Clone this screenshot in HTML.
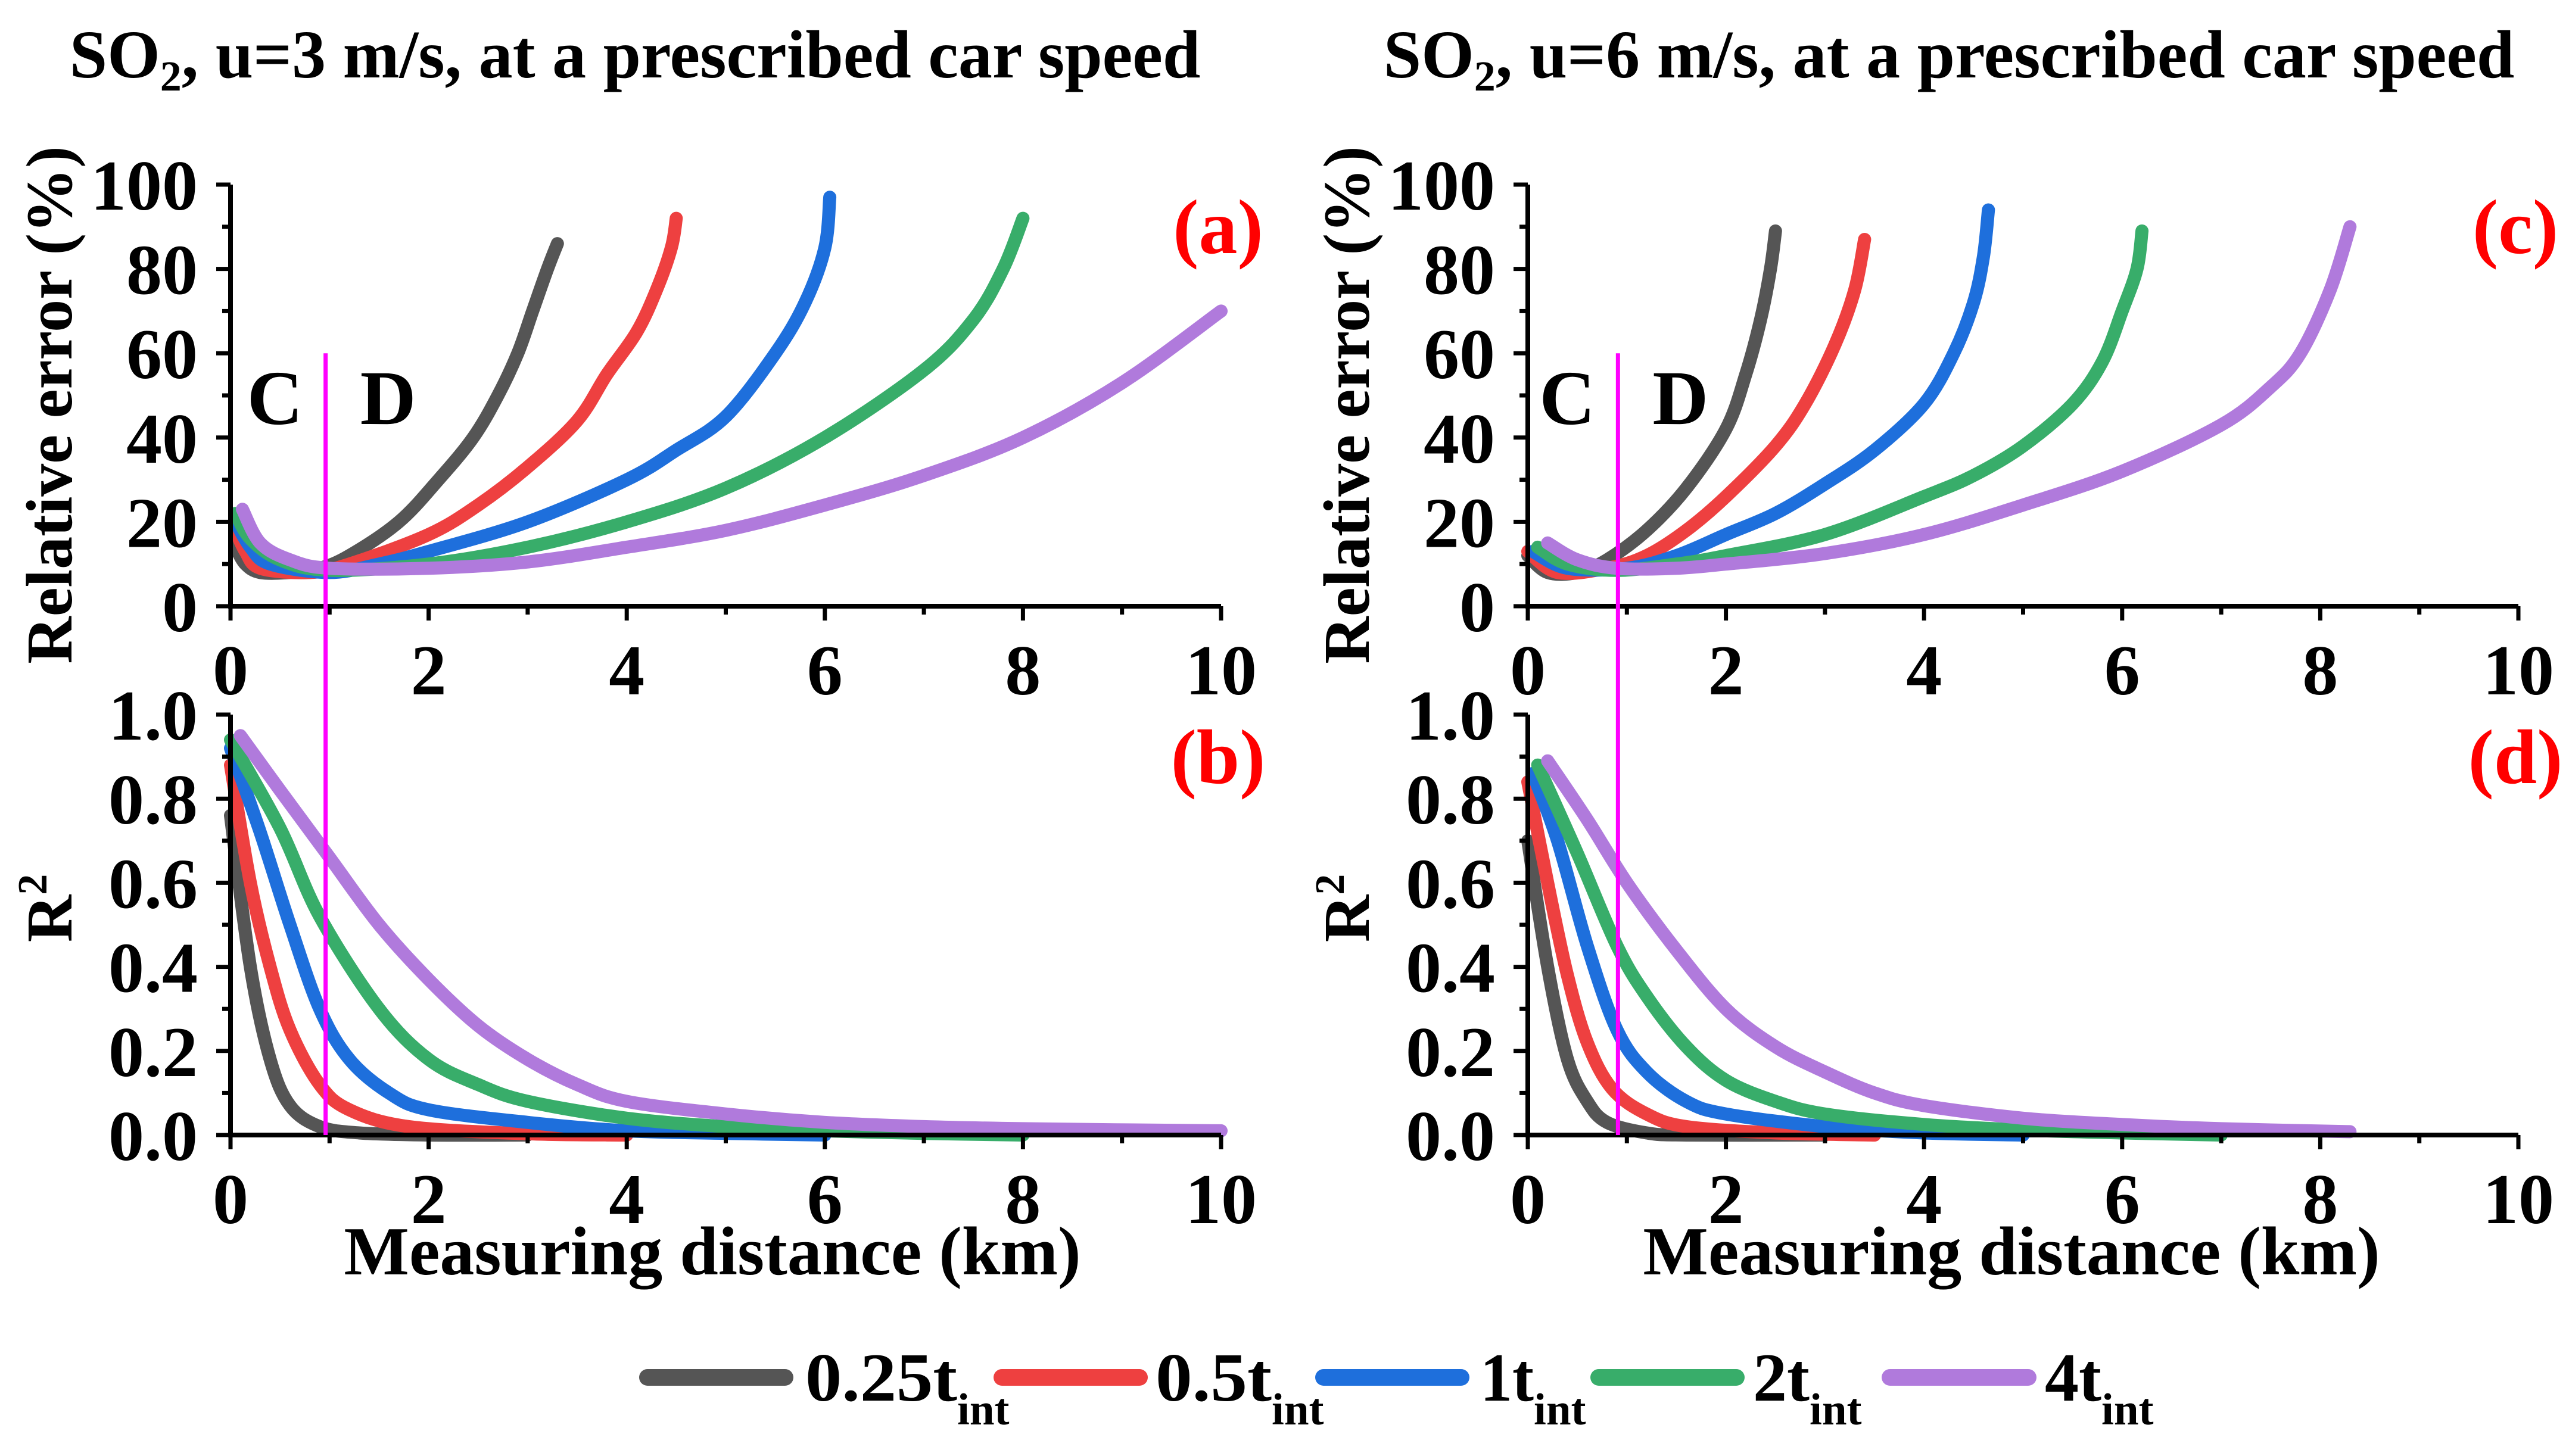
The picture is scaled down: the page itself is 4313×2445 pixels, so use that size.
<!DOCTYPE html>
<html><head><meta charset="utf-8"><style>
body{margin:0;background:#fff}
svg text{font-family:"Liberation Serif",serif;font-weight:bold}
</style></head><body>
<svg id="fig" width="4313" height="2440" viewBox="0 0 4313 2440" xmlns="http://www.w3.org/2000/svg">
<rect width="4313" height="2440" fill="#fff"/>
<g id="root"></g>
</svg>
<script>
const colors=["#555555","#ee4040","#1e6fdc","#38ad6a","#b07adc"];
const seriesNames=["0.25t","0.5t","1t","2t","4t"];
const xTicks=[0,2,4,6,8,10];
const reTicks=[0,20,40,60,80,100];
const r2Ticks=["0.0","0.2","0.4","0.6","0.8","1.0"];
// panel (a) relative error, u=3
const aX=[[0.05,0.15,0.3,0.6,0.9,1.2,1.7,2.1,2.45,2.7,2.9,3.05,3.2,3.3],[0.05,0.15,0.3,0.8,1.2,2,2.5,3,3.5,3.8,4.1,4.3,4.45,4.5],[0.05,0.2,0.4,1,1.5,2,3,4,4.5,5,5.5,5.8,6,6.05],[0.05,0.2,0.5,1,2,3,4,5,6,7,7.5,7.8,8],[0.12,0.3,0.6,1,2,3,4,5,6,7,8,9,10]];
const aY=[[14,10,8,8,9,12,20,30,40,50,60,70,80,86],[18,13,9,8,10,17,24,33,44,55,65,75,85,92],[20,14,10,8,10,13,20,30,37,45,60,72,85,97],[22,16,11,8.5,10,14,20,28,40,56,68,80,92],[23,15,11,9,9,10.5,14,18,24,31,40,53,70]];
// panel (b) R2, u=3
const bX=[[0,0.2,0.4,0.6,0.9,1.3,2,3],[0,0.2,0.4,0.6,0.9,1.2,1.8,3,4],[0,0.3,0.6,0.9,1.2,1.6,2,3,4,5,6],[0,0.5,0.9,1.5,2,2.5,3,4,5,6,7,8],[0.1,0.5,1,1.5,2,2.5,3,3.5,4,5,6,7,8,10]];
const bY=[[0.76,0.4,0.18,0.07,0.02,0.005,0,0],[0.88,0.6,0.4,0.25,0.12,0.06,0.02,0.003,0],[0.92,0.72,0.5,0.3,0.18,0.1,0.06,0.03,0.01,0.004,0],[0.94,0.73,0.52,0.3,0.18,0.12,0.08,0.04,0.02,0.01,0.004,0],[0.95,0.82,0.66,0.5,0.37,0.26,0.18,0.12,0.08,0.05,0.03,0.02,0.015,0.01]];
// panel (c) relative error, u=6
const cX=[[0,0.2,0.5,0.8,1.2,1.6,2,2.2,2.35,2.45,2.5],[0,0.3,0.8,1.2,1.6,2,2.5,2.8,3.1,3.3,3.4],[0.05,0.4,1,1.5,2,2.5,3,3.5,4,4.3,4.5,4.6,4.65],[0.1,0.4,0.9,1.5,2,3,4,4.5,5,5.5,5.8,6,6.15,6.2],[0.2,0.5,0.9,1.5,2,3,4,5,6,7,7.5,7.8,8.1,8.3]];
const cY=[[12,8,8,11,18,28,42,55,68,80,89],[13,8,9,12,18,26,38,48,62,75,87],[13,9,9,12,17,22,29,37,48,60,72,83,94],[14,10,8.5,10,12,17,26,31,38,48,58,70,80,89],[15,11,9,9,10,12.5,17,24,32,43,52,60,75,90]];
// panel (d) R2, u=6
const dX=[[0,0.2,0.4,0.6,0.8,1.2,1.6,3],[0,0.2,0.4,0.6,0.85,1.2,1.6,2.5,3.5],[0.05,0.3,0.6,0.9,1.2,1.6,2,3,4,5],[0.1,0.5,0.9,1.2,1.6,2,2.5,3,4,5,6,7],[0.2,0.6,1,1.5,2,2.5,3,3.5,4,5,6,7,8.3]];
const dY=[[0.7,0.4,0.18,0.08,0.03,0.005,0,0],[0.84,0.6,0.38,0.22,0.11,0.05,0.02,0.005,0],[0.86,0.7,0.45,0.25,0.15,0.08,0.05,0.02,0.005,0],[0.88,0.67,0.45,0.33,0.21,0.13,0.08,0.05,0.025,0.012,0.005,0],[0.89,0.75,0.6,0.44,0.3,0.21,0.15,0.1,0.07,0.04,0.025,0.015,0.008]];
const boundaryX=[0.96,0.91];

const NS="http://www.w3.org/2000/svg";
const root=document.getElementById('root');
function mk(tag,attrs,parent){const e=document.createElementNS(NS,tag);for(const k in attrs)e.setAttribute(k,attrs[k]);(parent||root).appendChild(e);return e;}
function txt(s,x,y,size,anchor,fill,parent){const t=mk('text',{x:x,y:y,'font-size':size,'text-anchor':anchor||'middle',fill:fill||'#000'},parent);t.textContent=s;return t;}
function smooth(P){
 let d='M'+P[0][0].toFixed(1)+','+P[0][1].toFixed(1);
 for(let i=0;i<P.length-1;i++){
  const p0=P[i>0?i-1:i],p1=P[i],p2=P[i+1],p3=P[i+2<P.length?i+2:i+1];
  const c1=[p1[0]+(p2[0]-p0[0])/6,p1[1]+(p2[1]-p0[1])/6];
  const c2=[p2[0]-(p3[0]-p1[0])/6,p2[1]-(p3[1]-p1[1])/6];
  d+=`C${c1[0].toFixed(1)},${c1[1].toFixed(1)} ${c2[0].toFixed(1)},${c2[1].toFixed(1)} ${p2[0].toFixed(1)},${p2[1].toFixed(1)}`;
 }
 return d;
}

const panels=[
 {x0:387,x1:2050,y0:1018,y1:310,ymax:100,xs:aX,ys:aY,ticks:reTicks,minor:10,major:20,label:"(a)",name:"panel-a"},
 {x0:387,x1:2050,y0:1906,y1:1200,ymax:1,xs:bX,ys:bY,ticks:r2Ticks,minor:0.1,major:0.2,label:"(b)",name:"panel-b"},
 {x0:2565,x1:4228,y0:1018,y1:310,ymax:100,xs:cX,ys:cY,ticks:reTicks,minor:10,major:20,label:"(c)",name:"panel-c"},
 {x0:2565,x1:4228,y0:1906,y1:1200,ymax:1,xs:dX,ys:dY,ticks:r2Ticks,minor:0.1,major:0.2,label:"(d)",name:"panel-d"}];

panels.forEach(p=>{
 const g=mk('g',{});
 
 
 const sx=v=>p.x0+(p.x1-p.x0)*v/10;
 const sy=v=>p.y0+(p.y1-p.y0)*v/p.ymax;
 p.xs.forEach((xa,i)=>{
  const P=xa.map((x,j)=>[sx(x),sy(p.ys[i][j])]);
  const pl=mk('path',{d:smooth(P),fill:'none',stroke:colors[i],'stroke-width':22,'stroke-linecap':'round','stroke-linejoin':'round'},g);
  
  
 });
 const ax=mk('path',{d:`M${p.x0},${p.y1}V${p.y0}H${p.x1}`,fill:'none',stroke:'#000','stroke-width':8},g);
 
 
 for(let v=0;v<=10;v++){const x=sx(v);mk('line',{x1:x,y1:p.y0,x2:x,y2:p.y0+(v%2?14:24),stroke:'#000','stroke-width':7},g);}
 for(let k=0;k<=10;k++){const y=sy(k*p.minor);mk('line',{x1:p.x0,y1:y,x2:p.x0-(k%2?14:24),y2:y,stroke:'#000','stroke-width':7},g);}
 xTicks.forEach(v=>{const t=txt(String(v),sx(v),p.y0+148,120,'middle','#000',g);});
 p.ticks.forEach((v,k)=>{const t=txt(String(v),p.x0-55,sy(k*p.major)+42,120,'end','#000',g);});
 const pl=txt(p.label,p.x1-5,p.y1+115,130,'middle','#f00',g);
 
 
});
[0,1].forEach(i=>{
 const p=panels[i*2];
 const x=p.x0+(p.x1-p.x0)*boundaryX[i]/10;
 const y=p.y0+(p.y1-p.y0)*0.6;
 const l=mk('line',{x1:x,y1:y,x2:x,y2:1906,stroke:'#ff00ff','stroke-width':7});
 
 
 const c=txt('C',x-85,712,130,'middle');
 const d=txt('D',x+105,712,130,'middle');
});
</script>
<svg style="position:absolute;left:0;top:0" width="4313" height="2440" xmlns="http://www.w3.org/2000/svg">
<text x="1066" y="130" font-size="114" text-anchor="middle">SO<tspan font-size="72" dy="22">2</tspan><tspan dy="-22">, u=3 m/s, at a prescribed car speed</tspan></text>
<text x="3272" y="130" font-size="114" text-anchor="middle">SO<tspan font-size="72" dy="22">2</tspan><tspan dy="-22">, u=6 m/s, at a prescribed car speed</tspan></text>
<text transform="translate(120,680) rotate(-90)" font-size="110" text-anchor="middle">Relative error (%)</text>
<text transform="translate(120,1525) rotate(-90)" font-size="110" text-anchor="middle">R<tspan font-size="70" dy="-42">2</tspan></text>
<text transform="translate(2298,680) rotate(-90)" font-size="110" text-anchor="middle">Relative error (%)</text>
<text transform="translate(2298,1525) rotate(-90)" font-size="110" text-anchor="middle">R<tspan font-size="70" dy="-42">2</tspan></text>
<text x="1196" y="2140" font-size="116" text-anchor="middle">Measuring distance (km)</text>
<text x="3377" y="2140" font-size="116" text-anchor="middle">Measuring distance (km)</text>
<g>
<line x1="1087" y1="2313" x2="1318" y2="2313" stroke="#555555" stroke-width="28" stroke-linecap="round"/>
<text x="1352" y="2352" font-size="115" textLength="255" lengthAdjust="spacingAndGlyphs">0.25t</text>
<text x="1607" y="2392" font-size="75">int</text>
<line x1="1682" y1="2313" x2="1913" y2="2313" stroke="#ee4040" stroke-width="28" stroke-linecap="round"/>
<text x="1940" y="2352" font-size="115" textLength="195" lengthAdjust="spacingAndGlyphs">0.5t</text>
<text x="2135" y="2392" font-size="75">int</text>
<line x1="2222" y1="2313" x2="2453" y2="2313" stroke="#1e6fdc" stroke-width="28" stroke-linecap="round"/>
<text x="2485" y="2352" font-size="115" textLength="90" lengthAdjust="spacingAndGlyphs">1t</text>
<text x="2575" y="2392" font-size="75">int</text>
<line x1="2684" y1="2313" x2="2915" y2="2313" stroke="#38ad6a" stroke-width="28" stroke-linecap="round"/>
<text x="2943" y="2352" font-size="115" textLength="95" lengthAdjust="spacingAndGlyphs">2t</text>
<text x="3038" y="2392" font-size="75">int</text>
<line x1="3173" y1="2313" x2="3405" y2="2313" stroke="#b07adc" stroke-width="28" stroke-linecap="round"/>
<text x="3433" y="2352" font-size="115" textLength="95" lengthAdjust="spacingAndGlyphs">4t</text>
<text x="3528" y="2392" font-size="75">int</text>
</g>
</svg>
</body></html>
